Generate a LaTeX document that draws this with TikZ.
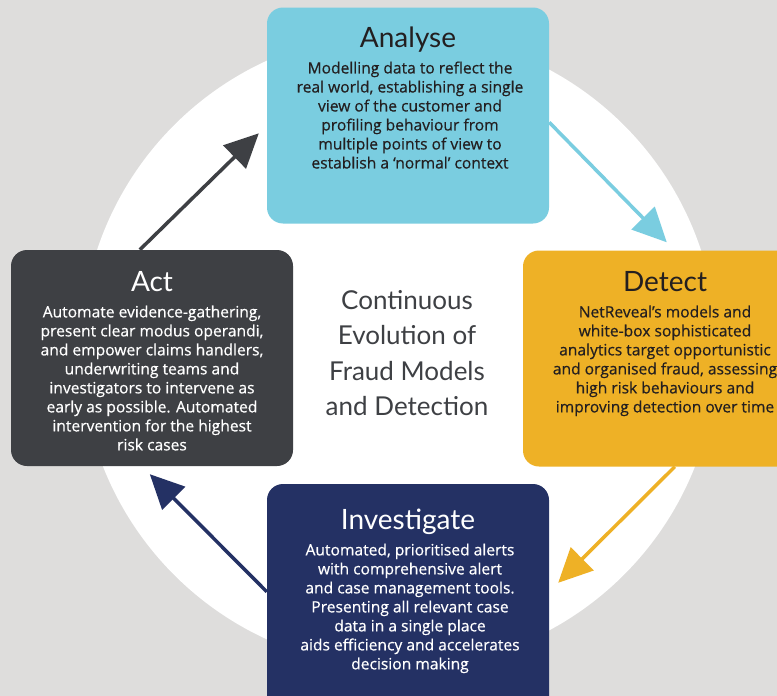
\documentclass[tikz,border=0pt]{standalone}
\usepackage{fontspec}
\setmainfont{Open Sans}
\newfontfamily\titlefont{Lato}
\newfontfamily\blurbfont{Open Sans}[FakeBold=0.5]
\usetikzlibrary{arrows.meta}
\usetikzlibrary{positioning}
\usetikzlibrary{calc}

\definecolor{bggrey}{HTML}{DEDDDC}
\definecolor{analysecol}{HTML}{7ACDE0}
\definecolor{detectcol}{HTML}{EEB126}
\definecolor{actcol}{HTML}{3E4044}
\definecolor{investcol}{HTML}{243164}
\definecolor{inkcol}{HTML}{231F20}

\begin{document}
\begin{tikzpicture}[x=1pt,y=-1pt,>={Triangle[length=34pt,width=32pt]},
    box/.style={rounded corners=16pt, minimum width=282pt, minimum height=216pt, inner sep=0pt},
    heading/.style={font=\titlefont\fontsize{28}{28}\selectfont, anchor=base},
    blurb/.style={font=\blurbfont\fontsize{15.6}{19}\selectfont, align=center, anchor=north},
    flow/.style={->, line width=3.5pt},
    middle/.style={font=\titlefont\fontsize{26}{35.5}\selectfont, align=center, text=actcol}]
    \clip (0,0) rectangle (777,696);
    \fill[bggrey] (0,0) rectangle (777,696);
    \fill[white] (399,350) circle (318);

    \node[box, fill=analysecol] (analyse) at (408,115.5) {};
    \node[box, fill=detectcol, minimum width=300pt] (detect) at (673,358.5) {};
    \node[box, fill=actcol] (act) at (152,358) {};
    \node[box, fill=investcol, minimum height=240pt] (investigate) at (408,604) {};

    \node[heading, text=inkcol] (analyse title) at (408,47) {Analyse};
    \node[heading, text=inkcol] (detect title) at (665,291) {Detect};
    \node[heading, text=white] (act title) at (152,291) {Act};
    \node[heading, text=white] (investigate title) at (408,529) {Investigate};

    \node[blurb, text=inkcol] (analyse text) at (410,58) {Modelling data to reflect the\\real world, establishing a single\\view of the customer and\\profiling behaviour from\\multiple points of view to\\establish a ‘normal’ context};
    \node[blurb, text=inkcol] (detect text) at (665,302) {NetReveal’s models and\\white-box sophisticated\\analytics target opportunistic\\and organised fraud, assessing\\high risk behaviours and\\improving detection over time};
    \node[blurb, text=white] (act text) at (152,302) {Automate evidence-gathering,\\present clear modus operandi,\\and empower claims handlers,\\underwriting teams and\\investigators to intervene as\\early as possible. Automated\\intervention for the highest\\risk cases};
    \node[blurb, text=white] (investigate text) at (410,540) {Automated, prioritised alerts\\with comprehensive alert\\and case management tools.\\Presenting all relevant case\\data in a single place\\aids efficiency and accelerates\\decision making};

    \node[middle] (cycle) at (407,353) {Continuous\\Evolution of\\Fraud Models\\and Detection};

    \draw[flow, actcol] ($(act.north west)+(129,0)$) -- ($(analyse.north west)+(-8,126)$);
    \draw[flow, analysecol] ($(analyse.north east)+(0,115)$) -- ($(detect.north west)+(144,-8)$);
    \draw[flow, detectcol] ($(detect.south west)+(152,0)$) -- ($(investigate.north east)+(9,99)$);
    \draw[flow, investcol] ($(investigate.north west)+(0,108)$) -- ($(act.south west)+(139,8)$);
\end{tikzpicture}
\end{document}
